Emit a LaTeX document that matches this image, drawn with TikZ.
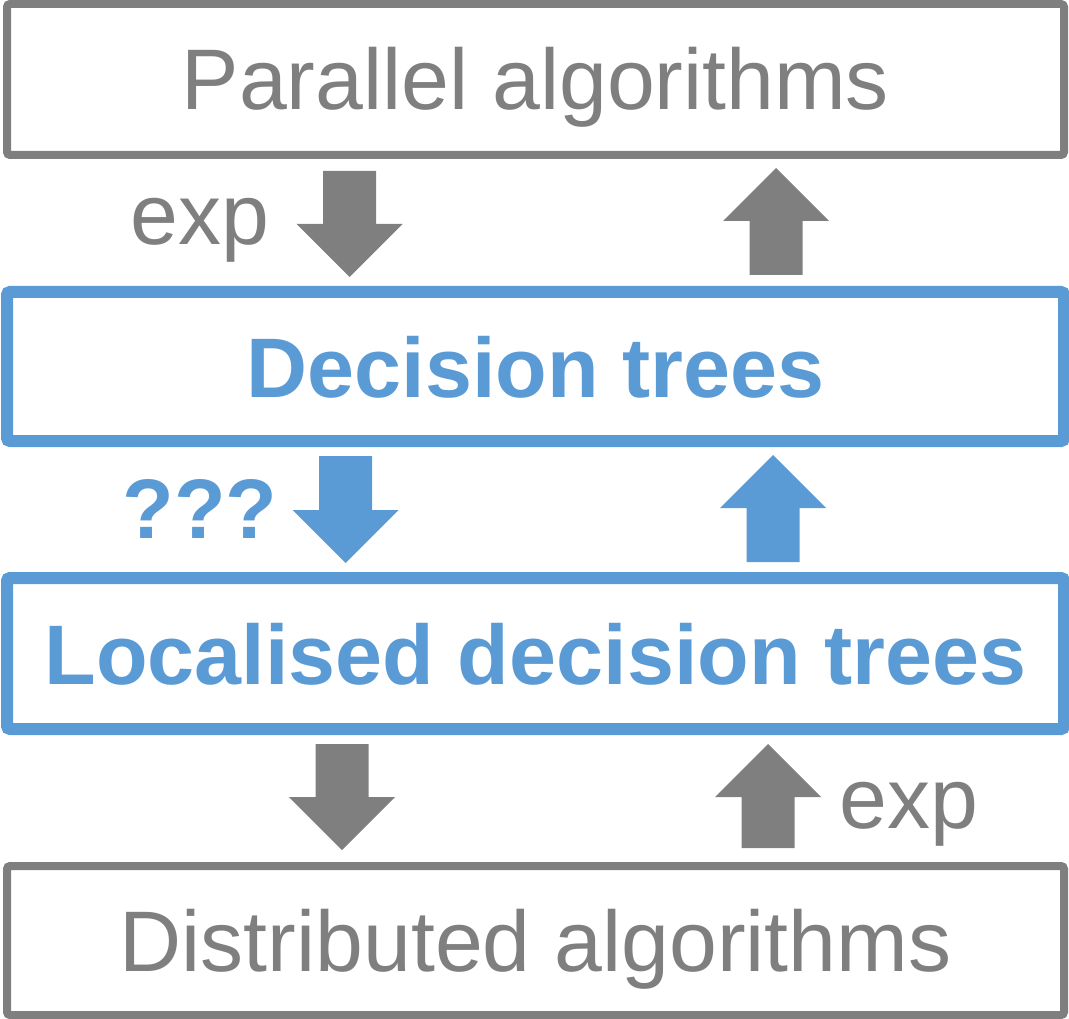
\documentclass[tikz,border=0pt]{standalone}
\usepackage{fontspec}
\setmainfont{Liberation Sans}
\usetikzlibrary{calc}
\definecolor{boxgray}{HTML}{7F7F7F}
\definecolor{boxblue}{HTML}{5B9BD5}
% vertical block arrow from #2 to #3 (tip at #3)
\newcommand\blockarrow[3]{%
  \fill[#1] ($(#2)+(-26.5,0)$) -- ($(#3)!53pt!(#2)+(-26.5,0)$)
    -- ($(#3)!53pt!(#2)+(-53,0)$) -- (#3)
    -- ($(#3)!53pt!(#2)+(53,0)$) -- ($(#3)!53pt!(#2)+(26.5,0)$)
    -- ($(#2)+(26.5,0)$) -- cycle;}
\newcommand\regfont{\fontsize{86}{100}\selectfont}
\newcommand\boldfont{\fontsize{84.5}{100}\selectfont\bfseries}
\begin{document}
\begin{tikzpicture}[x=1pt,y=-1pt,
  level/.style={draw, rectangle, rounded corners=3pt, inner sep=0pt,
    minimum width=1057pt, text height=61pt, text depth=0pt},
  plainbox/.style={level, draw=boxgray, line width=8pt, text=boxgray, font=\regfont},
  treebox/.style={level, draw=boxblue, line width=12pt, text=boxblue, font=\boldfont},
  tag/.style={anchor=base, inner sep=0pt}]
\useasboundingbox (0,0) rectangle (1069,1019);

% four levels
\node[plainbox, minimum height=151pt] (par) at (535.5,79.5) {Parallel algorithms};
\node[treebox, minimum height=149pt] (dt) at (535.5,366.5) {Decision trees};
\node[treebox, minimum height=151pt] (ldt) at (535.5,653.5) {Localised decision trees};
\node[plainbox, minimum height=149pt] (dist) at (535.5,940.5) {Distributed algorithms};

% arrow end points
\coordinate (a1s) at (349.5,171); \coordinate (a1e) at (349.5,277);
\coordinate (a2s) at (776,275);   \coordinate (a2e) at (776,168);
\coordinate (a3s) at (345.5,456); \coordinate (a3e) at (345.5,563);
\coordinate (a4s) at (773,562);   \coordinate (a4e) at (773,455);
\coordinate (a5s) at (342,744);   \coordinate (a5e) at (342,850);
\coordinate (a6s) at (768,848);   \coordinate (a6e) at (768,744);

\blockarrow{boxgray}{a1s}{a1e}
\blockarrow{boxgray}{a2s}{a2e}
\blockarrow{boxblue}{a3s}{a3e}
\blockarrow{boxblue}{a4s}{a4e}
\blockarrow{boxgray}{a5s}{a5e}
\blockarrow{boxgray}{a6s}{a6e}

% arrow labels
\node[tag, text=boxgray, font=\regfont] (exp1) at (200,245) {exp};
\node[tag, text=boxblue, font=\boldfont] (unk) at (200,538) {???};
\node[tag, text=boxgray, font=\regfont] (exp2) at (909,828) {exp};
\end{tikzpicture}
\end{document}
